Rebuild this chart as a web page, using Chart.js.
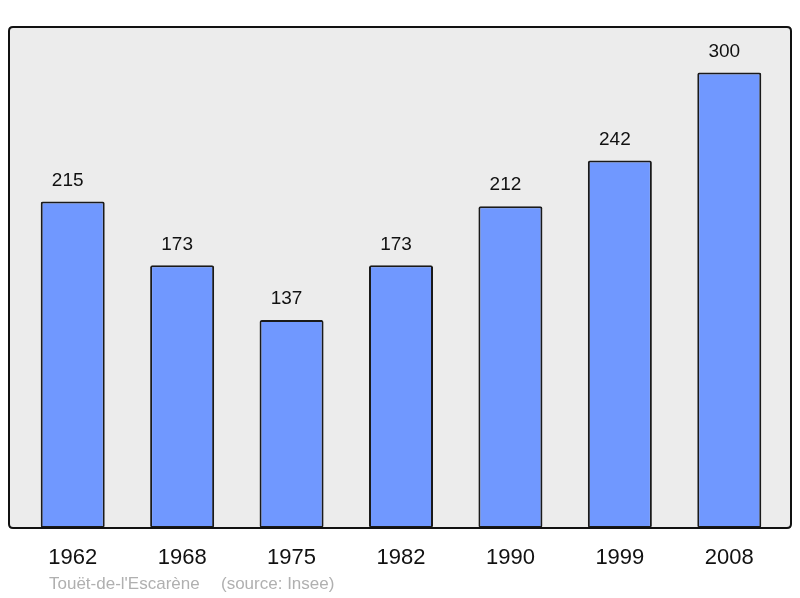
<!DOCTYPE html>
<html>
<head>
<meta charset="utf-8">
<script src="https://cdn.jsdelivr.net/npm/chart.js@4"></script>
<style>
html,body{margin:0;padding:0;background:#fff;}
#wrap{width:800px;height:598px;position:relative;}
</style>
</head>
<body>
<div id="wrap"><canvas id="c" width="800" height="598"></canvas></div>
<script>
const years = ["1962","1968","1975","1982","1990","1999","2008"];
const population = [215,173,137,173,212,242,300];
const placeName = "Touët-de-l'Escarène";
const sourceText = "(source: Insee)";

function framePath(ctx) {
  const x0 = 9, y0 = 27, x1 = 791, y1 = 528, r = 4;
  ctx.beginPath();
  ctx.moveTo(x0 + r, y0);
  ctx.lineTo(x1 - r, y0);
  ctx.quadraticCurveTo(x1, y0, x1, y0 + r);
  ctx.lineTo(x1, y1 - r);
  ctx.quadraticCurveTo(x1, y1, x1 - r, y1);
  ctx.lineTo(x0 + r, y1);
  ctx.quadraticCurveTo(x0, y1, x0, y1 - r);
  ctx.lineTo(x0, y0 + r);
  ctx.quadraticCurveTo(x0, y0, x0 + r, y0);
  ctx.closePath();
}

const framePlugin = {
  id: 'frame',
  beforeDraw(chart) {
    const ctx = chart.ctx;
    ctx.save();
    framePath(ctx);
    ctx.fillStyle = '#ececec';
    ctx.fill();
    ctx.restore();
  },
  afterDatasetsDraw(chart) {
    const ctx = chart.ctx;
    ctx.save();
    framePath(ctx);
    ctx.lineWidth = 2;
    ctx.strokeStyle = '#111';
    ctx.stroke();
    // value labels
    const meta = chart.getDatasetMeta(0);
    ctx.fillStyle = '#111';
    ctx.font = '19px "Liberation Sans", Arial, sans-serif';
    ctx.textAlign = 'center';
    ctx.textBaseline = 'middle';
    meta.data.forEach((bar, i) => {
      ctx.fillText(String(population[i]), bar.x - 5, bar.y - 21);
    });
    // source line
    ctx.fillStyle = '#b0b0b0';
    ctx.font = '17px "Liberation Sans", Arial, sans-serif';
    ctx.textAlign = 'left';
    ctx.fillText(placeName, 49, 584);
    ctx.fillText(sourceText, 221, 584);
    ctx.restore();
  }
};

new Chart(document.getElementById('c'), {
  type: 'bar',
  data: {
    labels: years,
    datasets: [{
      data: population,
      backgroundColor: '#7098ff',
      borderColor: '#1a1a1a',
      borderWidth: 2,
      borderRadius: 2,
      borderSkipped: false,
      barPercentage: 0.585,
      categoryPercentage: 1
    }]
  },
  options: {
    responsive: false,
    animation: false,
    events: [],
    layout: { padding: { left: 18, right: 16, top: 27, bottom: 0 } },
    plugins: { legend: { display: false }, tooltip: { enabled: false }, title: { display: false } },
    scales: {
      x: {
        grid: { display: false, drawTicks: false },
        border: { display: false },
        ticks: {
          color: '#111',
          font: { size: 22, family: '"Liberation Sans", Arial, sans-serif' },
          padding: 17,
          maxRotation: 0
        },
        afterFit(s) { s.height = 70; }
      },
      y: {
        display: false,
        min: 0,
        max: 330
      }
    }
  },
  plugins: [framePlugin]
});
</script>
</body>
</html>
